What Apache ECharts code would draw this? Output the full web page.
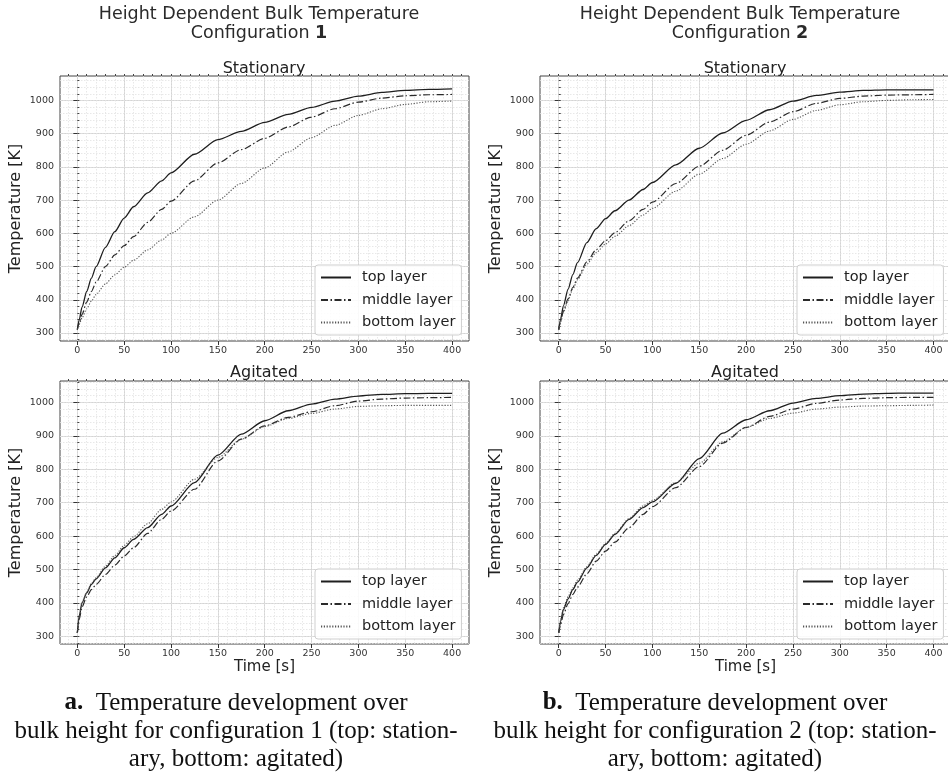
<!DOCTYPE html>
<html>
<head>
<meta charset="utf-8">
<script src="https://cdn.jsdelivr.net/npm/echarts@6/dist/echarts.min.js"></script>
<style>
  html, body { margin: 0; padding: 0; background: #fff; }
  #main { width: 948px; height: 775px; }
</style>
</head>
<body>
<div id="main"></div>
<script>
// time samples [s], shared by all curves
var time = [0, 2, 5, 10, 15, 20, 30, 40, 50, 60, 75, 90, 100, 125, 150, 175, 200, 225, 250, 275, 300, 325, 350, 375, 400];

// configuration 1, stationary
var c1StatTop    = [310, 340, 378, 425, 465, 500, 558, 605, 646, 680, 722, 758, 782, 838, 882, 907, 934, 958, 979, 998, 1013, 1024, 1030, 1033, 1035];
var c1StatMiddle = [310, 330, 356, 393, 425, 453, 500, 535, 563, 590, 633, 672, 697, 758, 812, 852, 886, 920, 950, 975, 995, 1007, 1014, 1017, 1018];
var c1StatBottom = [310, 326, 346, 373, 396, 416, 448, 475, 498, 519, 550, 580, 600, 650, 700, 750, 797, 845, 888, 925, 955, 975, 988, 996, 998];
// configuration 2, stationary
var c2StatTop    = [310, 342, 382, 432, 476, 512, 572, 614, 644, 668, 700, 732, 753, 806, 856, 902, 940, 972, 998, 1015, 1025, 1030, 1032, 1032, 1032];
var c2StatMiddle = [310, 336, 366, 403, 437, 465, 514, 551, 578, 602, 638, 672, 694, 750, 802, 850, 895, 935, 966, 991, 1006, 1013, 1016, 1017, 1018];
var c2StatBottom = [310, 334, 362, 398, 432, 460, 507, 542, 568, 591, 623, 655, 675, 727, 778, 825, 868, 908, 943, 970, 987, 996, 1000, 1002, 1003];
// configuration 1, agitated
var c1AgiTop     = [310, 360, 400, 430, 455, 472, 505, 535, 565, 590, 625, 665, 690, 760, 842, 905, 945, 975, 995, 1010, 1019, 1024, 1026, 1027, 1027];
var c1AgiMiddle  = [310, 350, 388, 418, 440, 455, 485, 513, 540, 565, 608, 650, 675, 740, 825, 890, 930, 955, 972, 990, 1004, 1010, 1013, 1014, 1015];
var c1AgiBottom  = [310, 362, 402, 432, 458, 475, 510, 542, 572, 598, 637, 680, 702, 770, 835, 890, 928, 952, 967, 980, 988, 990, 991, 991, 991];
// configuration 2, agitated
var c2AgiTop     = [310, 345, 380, 412, 440, 462, 505, 542, 575, 605, 650, 685, 702, 758, 832, 908, 948, 975, 998, 1012, 1020, 1025, 1027, 1028, 1028];
var c2AgiMiddle  = [310, 335, 365, 398, 425, 447, 487, 525, 555, 582, 625, 665, 688, 745, 808, 878, 925, 958, 980, 997, 1007, 1012, 1014, 1015, 1015];
var c2AgiBottom  = [310, 348, 385, 418, 445, 468, 508, 546, 578, 608, 652, 690, 707, 760, 818, 882, 925, 952, 968, 980, 986, 989, 990, 991, 992];

var layerNames = ['top layer', 'middle layer', 'bottom layer'];

// tick values
var xMajor = [0, 50, 100, 150, 200, 250, 300, 350, 400];
var yMajor = [300, 400, 500, 600, 700, 800, 900, 1000];
var xMinor = [];
for (var i = -10; i <= 410; i += 10) xMinor.push(i);
var yMinor = [];
for (var j = 280; j <= 1060; j += 20) yMinor.push(j);

var sans = 'DejaVu Sans';
var grids = [
  {left: 60,  top: 76,  width: 409, height: 265},
  {left: 540, top: 76,  width: 411, height: 265},
  {left: 60,  top: 381, width: 409, height: 263},
  {left: 540, top: 381, width: 411, height: 263}
];
var xRange = [[-18.5, 418], [-20, 418.7], [-18.5, 418], [-20, 418.7]];
var yRange = [[276, 1073.5], [276, 1073.5], [277, 1064], [277, 1064]];

function pairs(vals) {
  var out = [];
  for (var k = 0; k < time.length; k++) out.push([time[k], vals[k]]);
  return out;
}
function plain(v) { return String(v); }

var xAxis = [], yAxis = [];
// major axes 0..3
for (var g = 0; g < 4; g++) {
  xAxis.push({
    type: 'value', gridIndex: g, min: xRange[g][0], max: xRange[g][1],
    axisLine: {show: false},
    axisTick: {customValues: xMajor, length: 4, lineStyle: {color: '#333'}},
    axisLabel: {customValues: xMajor, formatter: plain, fontFamily: sans, fontSize: 9.5, color: '#333', margin: 5},
    splitLine: {show: true, lineStyle: {color: '#d4d4d4', width: 1}},
    name: g >= 2 ? 'Time [s]' : '', nameLocation: 'middle', nameGap: 13,
    nameTextStyle: {fontFamily: sans, fontSize: 15, color: '#222'}
  });
  yAxis.push({
    type: 'value', gridIndex: g, min: yRange[g][0], max: yRange[g][1],
    axisLine: {show: false},
    axisTick: {customValues: yMajor, length: 4, lineStyle: {color: '#333'}},
    axisLabel: {customValues: yMajor, formatter: plain, fontFamily: sans, fontSize: 9.5, color: '#333', margin: 6},
    splitLine: {show: true, lineStyle: {color: '#d4d4d4', width: 1}},
    name: 'Temperature [K]', nameLocation: 'middle', nameGap: 36,
    nameTextStyle: {fontFamily: sans, fontSize: 16, color: '#222'}
  });
}
// minor overlay axes 4..7
for (var g2 = 0; g2 < 4; g2++) {
  xAxis.push({
    type: 'value', gridIndex: g2, min: xRange[g2][0], max: xRange[g2][1],
    axisLine: {show: false}, axisLabel: {show: false},
    axisTick: {customValues: xMinor, length: 2, lineStyle: {color: '#444'}},
    splitLine: {show: true, lineStyle: {color: '#e2e2e2', type: [1.5, 1.5], width: 0.8}}
  });
  yAxis.push({
    type: 'value', gridIndex: g2, min: yRange[g2][0], max: yRange[g2][1],
    axisLine: {show: false}, axisLabel: {show: false},
    axisTick: {customValues: yMinor, length: 2, lineStyle: {color: '#444'}},
    splitLine: {show: true, lineStyle: {color: '#e2e2e2', type: [1.5, 1.5], width: 0.8}}
  });
}

var lineStyles = [
  {color: '#1e1e1e', width: 1.3, type: 'solid'},
  {color: '#2a2a2a', width: 1.2, type: [7, 2.5, 1.5, 2.5]},
  {color: '#555', width: 1.1, type: [1.2, 1.6]}
];
var panels = [
  [c1StatTop, c1StatMiddle, c1StatBottom],
  [c2StatTop, c2StatMiddle, c2StatBottom],
  [c1AgiTop, c1AgiMiddle, c1AgiBottom],
  [c2AgiTop, c2AgiMiddle, c2AgiBottom]
];
var series = [];
for (var p = 0; p < 4; p++) {
  for (var s = 0; s < 3; s++) {
    series.push({
      type: 'line', name: layerNames[s], xAxisIndex: p, yAxisIndex: p,
      data: pairs(panels[p][s]), symbol: 'none', smooth: 0.25, smoothMonotone: 'x',
      color: lineStyles[s].color, itemStyle: {color: lineStyles[s].color},
      lineStyle: lineStyles[s], z: 5
    });
  }
}

var legendPos = [[315, 265], [797, 265], [315, 569], [797, 569]];
var legend = legendPos.map(function(pos) {
  return {
    data: layerNames, orient: 'vertical', left: pos[0], top: pos[1],
    itemWidth: 30, itemHeight: 14, itemGap: 7.5, padding: [5, 6, 5, 5],
    backgroundColor: 'rgba(255,255,255,0.85)', borderColor: '#cfcfcf', borderWidth: 1, borderRadius: 3,
    itemStyle: {opacity: 0, borderWidth: 0},
    textStyle: {fontFamily: sans, fontSize: 14.5, color: '#222', padding: [0, 0, 0, 6]},
    selectedMode: false
  };
});

var supRich = {
  n: {fontFamily: sans, fontSize: 17.5, color: '#2a2a2a', lineHeight: 19, fontWeight: 'normal'},
  b: {fontFamily: sans, fontSize: 17.5, color: '#2a2a2a', lineHeight: 19, fontWeight: 'bold'}
};
var capRich = {
  n: {fontFamily: 'Liberation Serif', fontSize: 25, color: '#111', lineHeight: 28, fontWeight: 'normal'},
  b: {fontFamily: 'Liberation Serif', fontSize: 25, color: '#111', lineHeight: 28, fontWeight: 'bold'}
};
var subStyle = {fontFamily: sans, fontSize: 16, color: '#222', fontWeight: 'normal'};

var title = [
  {text: '{n|Height Dependent Bulk Temperature}\n{n|Configuration }{b|1}', left: 259, top: 5, textAlign: 'center', padding: 0, textStyle: {fontWeight: 'normal', rich: supRich}},
  {text: '{n|Height Dependent Bulk Temperature}\n{n|Configuration }{b|2}', left: 740, top: 5, textAlign: 'center', padding: 0, textStyle: {fontWeight: 'normal', rich: supRich}},
  {text: 'Stationary', left: 264, top: 61, textAlign: 'center', padding: 0, textStyle: subStyle},
  {text: 'Stationary', left: 745, top: 61, textAlign: 'center', padding: 0, textStyle: subStyle},
  {text: 'Agitated', left: 264, top: 365, textAlign: 'center', padding: 0, textStyle: subStyle},
  {text: 'Agitated', left: 745, top: 365, textAlign: 'center', padding: 0, textStyle: subStyle},
  {text: '{b|a.}{n|  Temperature development over}\n{n|bulk height for configuration 1 (top: station-}\n{n|ary, bottom: agitated)}',
   left: 236, top: 689, textAlign: 'center', padding: 0, textStyle: {fontWeight: 'normal', rich: capRich}},
  {text: '{b|b.}{n|  Temperature development over}\n{n|bulk height for configuration 2 (top: station-}\n{n|ary, bottom: agitated)}',
   left: 715, top: 689, textAlign: 'center', padding: 0, textStyle: {fontWeight: 'normal', rich: capRich}}
];

var myChart = echarts.init(document.getElementById('main'), null, {renderer: 'canvas'});
myChart.setOption({
  animation: false,
  backgroundColor: '#fff',
  title: title,
  legend: legend,
  grid: grids.map(function(gr) {
    return Object.assign({show: true, borderColor: '#444', borderWidth: 1, backgroundColor: 'transparent', outerBoundsMode: 'none', containLabel: false}, gr);
  }),
  xAxis: xAxis,
  yAxis: yAxis,
  series: series
});
</script>
</body>
</html>
